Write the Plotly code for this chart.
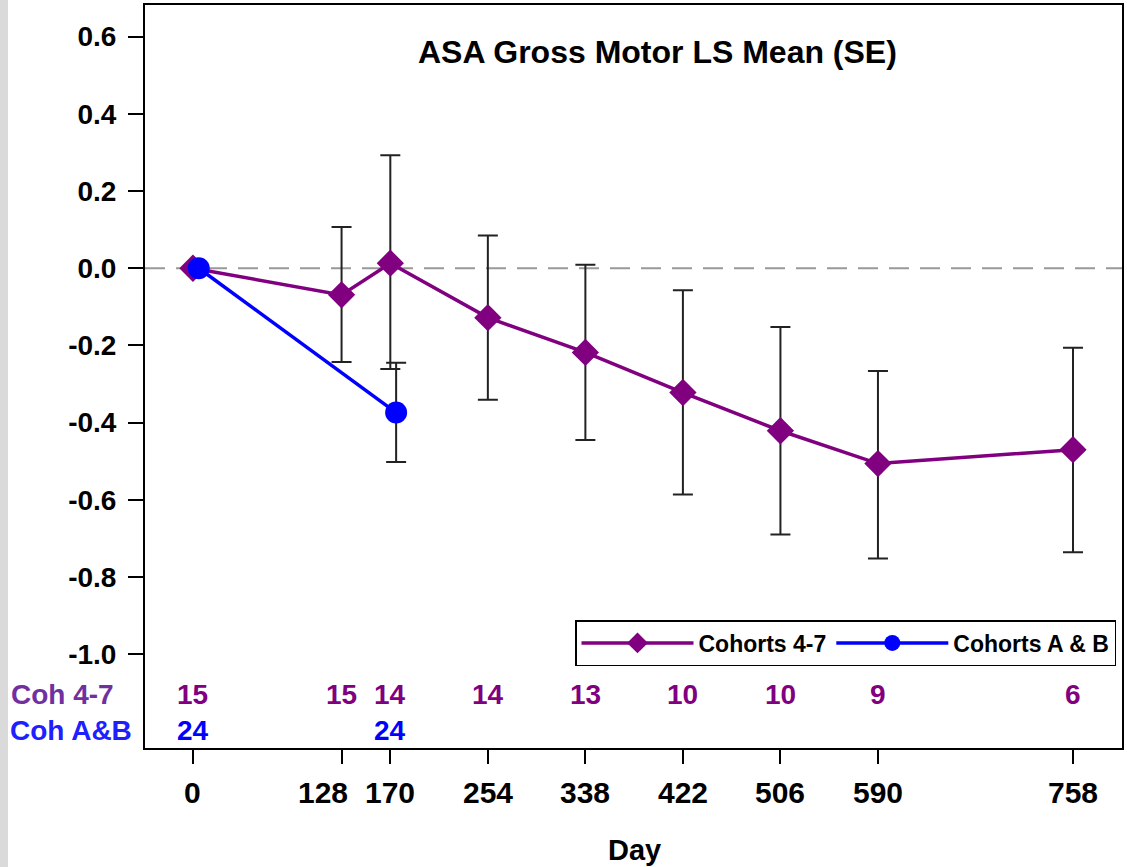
import plotly.graph_objects as go

# ---------------- data ----------------
days = [0, 128, 170, 254, 338, 422, 506, 590, 758]
coh47_mean = [0.0, -0.069, 0.013, -0.128, -0.218, -0.322, -0.421, -0.506, -0.470]
coh47_upper = [0.0, 0.107, 0.293, 0.085, 0.009, -0.057, -0.152, -0.266, -0.206]
coh47_lower = [0.0, -0.243, -0.261, -0.341, -0.445, -0.586, -0.690, -0.752, -0.736]
coh47_n = [15, 15, 14, 14, 13, 10, 10, 9, 6]

cohAB_days = [0, 170]
cohAB_mean = [0.0, -0.374]
cohAB_upper = [0.0, -0.245]
cohAB_lower = [0.0, -0.502]
cohAB_n = [24, 24]

y_ticks = [-1.0, -0.8, -0.6, -0.4, -0.2, 0.0, 0.2, 0.4, 0.6]
x_tick_labels = [str(d) for d in days]

title_text = "ASA Gross Motor LS Mean (SE)"
x_title = "Day"
row_labels = ["Coh 4-7", "Coh A&B"]
legend_names = ["Cohorts 4-7", "Cohorts A & B"]

# ---------------- style ----------------
PURPLE = "#800080"
BLUE = "#0000FF"
FONT = "Liberation Sans, Arial, sans-serif"
W, H = 1127, 867
ML, MR, MT, MB = 145, 5, 5, 119
PW, PH = W - ML - MR, H - MT - MB
AB_DODGE = 5  # days offset for cohort A&B markers

X_RANGE = [-41.3, 800.2]
Y_RANGE = [-1.243, 0.682]


def py(pix):
    """pixel y (from top) -> paper y"""
    return (H - MB - pix) / PH


def px(pix):
    return (pix - ML) / PW


fig = go.Figure()

fig.add_trace(go.Scatter(
    x=days, y=coh47_mean, name=legend_names[0], mode="lines+markers",
    line=dict(color=PURPLE, width=3.5),
    marker=dict(symbol="diamond", size=21, color=PURPLE),
    error_y=dict(type="data", symmetric=False,
                 array=[u - m for u, m in zip(coh47_upper, coh47_mean)],
                 arrayminus=[m - l for m, l in zip(coh47_mean, coh47_lower)],
                 color="#222222", thickness=2, width=10),
))

fig.add_trace(go.Scatter(
    x=[d + AB_DODGE for d in cohAB_days], y=cohAB_mean, name=legend_names[1],
    mode="lines+markers",
    line=dict(color=BLUE, width=3.5),
    marker=dict(symbol="circle", size=22, color=BLUE),
    error_y=dict(type="data", symmetric=False,
                 array=[u - m for u, m in zip(cohAB_upper, cohAB_mean)],
                 arrayminus=[m - l for m, l in zip(cohAB_mean, cohAB_lower)],
                 color="#222222", thickness=2, width=10),
))

annotations = []
# title
annotations.append(dict(text=title_text, x=px(657.5), y=py(52), xref="paper", yref="paper",
                        showarrow=False, xanchor="center", yanchor="middle",
                        font=dict(family=FONT, size=32, color="black", weight="bold")))
# x tick labels
label_shift = {128: -19}
for d, t in zip(days, x_tick_labels):
    annotations.append(dict(text=t, x=d, y=py(792), xref="x", yref="paper",
                            showarrow=False, xanchor="center", yanchor="middle",
                            xshift=label_shift.get(d, 0),
                            font=dict(family=FONT, size=30, color="black", weight="bold")))
# x title
annotations.append(dict(text=x_title, x=px(634), y=py(850), xref="paper", yref="paper",
                        showarrow=False, xanchor="center", yanchor="middle",
                        font=dict(family=FONT, size=29, color="black", weight="bold")))
# counts rows
for d, n in zip(days, coh47_n):
    annotations.append(dict(text=str(n), x=d, y=py(694), xref="x", yref="paper",
                            showarrow=False, xanchor="center", yanchor="middle",
                            font=dict(family=FONT, size=28, color=PURPLE, weight="bold")))
for d, n in zip(cohAB_days, cohAB_n):
    annotations.append(dict(text=str(n), x=d, y=py(730), xref="x", yref="paper",
                            showarrow=False, xanchor="center", yanchor="middle",
                            font=dict(family=FONT, size=28, color=BLUE, weight="bold")))
annotations.append(dict(text=row_labels[0], x=px(9), y=py(694), xref="paper", yref="paper",
                        showarrow=False, xanchor="left", yanchor="middle",
                        font=dict(family=FONT, size=28, color="#7030A0", weight="bold")))
annotations.append(dict(text=row_labels[1], x=px(8), y=py(730), xref="paper", yref="paper",
                        showarrow=False, xanchor="left", yanchor="middle",
                        font=dict(family=FONT, size=28, color="#2020FF", weight="bold")))

shapes = [
    dict(type="line", xref="paper", yref="y", x0=0, x1=1, y0=0, y1=0,
         line=dict(color="#999999", width=2, dash="20px,11px"), layer="below"),
    dict(type="rect", xref="paper", yref="paper", x0=px(0), x1=px(8), y0=py(H), y1=py(0),
         fillcolor="#DADADA", line=dict(width=0)),
]

fig.update_layout(
    width=W, height=H,
    margin=dict(l=ML, r=MR, t=MT, b=MB, autoexpand=False),
    paper_bgcolor="white", plot_bgcolor="white",
    font=dict(family=FONT, color="black"),
    showlegend=True,
    legend=dict(orientation="h", x=px(1116), xanchor="right", y=py(620), yanchor="top",
                bordercolor="black", borderwidth=1.5, bgcolor="white",
                font=dict(family=FONT, size=23, color="black", weight="bold"),
                itemwidth=112, tracegroupgap=0),
    annotations=annotations,
    shapes=shapes,
    xaxis=dict(range=X_RANGE, tickvals=days, showticklabels=False, ticks="outside",
               ticklen=14, tickwidth=2, tickcolor="black", showline=True, linecolor="black",
               linewidth=2, mirror=True, showgrid=False, zeroline=False),
    yaxis=dict(range=Y_RANGE, tickvals=y_ticks, ticktext=[f"{v:.1f}" for v in y_ticks],
               ticks="outside", ticklen=15, tickwidth=2, tickcolor="black",
               showline=True, linecolor="black", linewidth=2, mirror=True,
               showgrid=False, zeroline=False, ticklabelstandoff=6,
               tickfont=dict(family=FONT, size=28, color="black", weight="bold")),
)

fig.write_html("out.html", config={"displayModeBar": False},
               post_script="document.body.style.margin='0';document.body.style.overflow='hidden';")
